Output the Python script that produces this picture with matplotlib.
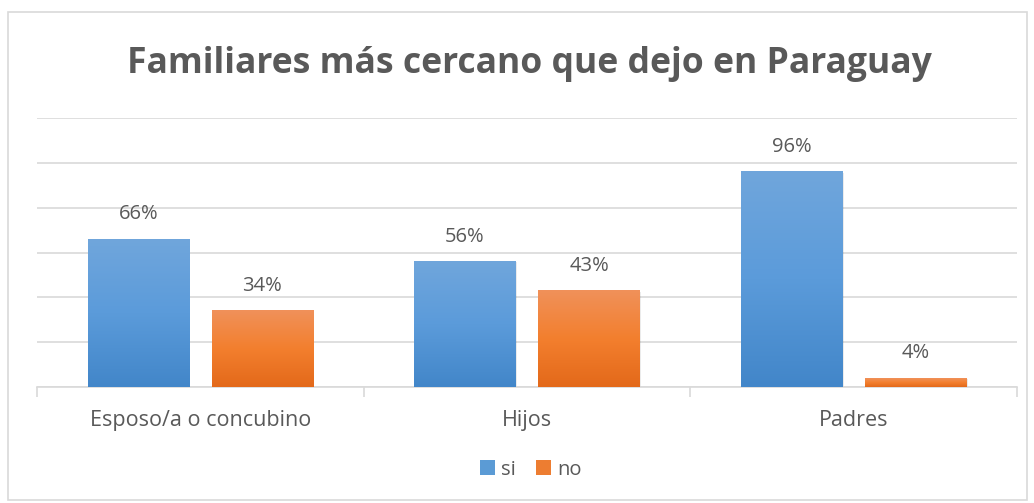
import matplotlib.pyplot as plt
import matplotlib.patches as mpatches
import numpy as np
from matplotlib.colors import LinearSegmentedColormap

categories = ["Esposo/a o concubino", "Hijos", "Padres"]
si_vals = [0.66, 0.56, 0.96]
no_vals = [0.34, 0.43, 0.04]
series_names = ["si", "no"]

plt.rcParams['font.family'] = ['Open Sans', 'DejaVu Sans']
text_col = '#595959'
grid_col = '#D9D9D9'

fig = plt.figure(figsize=(10.34, 5.03), dpi=100)
ax = fig.add_axes([0.0358, 0.2306, 0.9478, 0.5348])

# outer chart border
fig.patches.append(mpatches.Rectangle((8 / 1034, 3 / 503), 1019 / 1034, 488 / 503,
                                      transform=fig.transFigure, fill=False,
                                      edgecolor='#D9D9D9', linewidth=1.2))

blue_cmap = LinearSegmentedColormap.from_list('b', ['#4286C9', '#5B9BDA', '#70A6DC'])
orange_cmap = LinearSegmentedColormap.from_list('o', ['#E3691A', '#F37F2E', '#F0915A'])

width = 0.31
offset = 0.19
x = np.arange(len(categories))
grad = np.linspace(0, 1, 256).reshape(-1, 1)

def grad_bars(xs, vals, cmap):
    for xi, v in zip(xs, vals):
        # soft shadow
        ax.add_patch(mpatches.Rectangle((xi - width / 2 + 0.004, 0), width, v - 0.004,
                                        facecolor='#000000', alpha=0.08, edgecolor='none', zorder=2))
        ax.imshow(grad, extent=(xi - width / 2, xi + width / 2, 0, v), origin='lower',
                  cmap=cmap, aspect='auto', zorder=3)
        ax.text(xi, v + 0.065, f"{round(v * 100):d}%", ha='center', va='bottom',
                fontsize=14.5, color=text_col, zorder=4)

grad_bars(x - offset, si_vals, blue_cmap)
grad_bars(x + offset, no_vals, orange_cmap)

ax.set_xlim(-0.5, 2.5)
ax.set_ylim(0, 1.2)
ax.set_yticks(np.arange(0, 1.21, 0.2))
ax.yaxis.grid(True, color=grid_col, linewidth=1.2)
ax.set_axisbelow(True)
ax.tick_params(axis='y', length=0, labelleft=False)
for s in ['top', 'right', 'left']:
    ax.spines[s].set_visible(False)
ax.spines['bottom'].set_color(grid_col)
ax.spines['bottom'].set_linewidth(1.2)

ax.set_xticks([-0.5, 0.5, 1.5, 2.5])
ax.set_xticklabels([])
ax.tick_params(axis='x', length=7, color=grid_col, width=1.2)
for xi, c in zip(x, categories):
    ax.text(xi, -0.15, c, ha='center', va='center', fontsize=15.5, color=text_col,
            transform=ax.transData)

fig.text(0.512, 0.872, "Familiares más cercano que dejo en Paraguay", ha='center', va='center',
         fontsize=25.6, fontweight='bold', color=text_col)

handles = [mpatches.Patch(facecolor='#5B9BD5'), mpatches.Patch(facecolor='#ED7D31')]
fig.legend(handles, series_names, loc='center', bbox_to_anchor=(0.513, 0.066), ncol=2,
           frameon=False, fontsize=14.5, handlelength=0.75, handleheight=0.75,
           handletextpad=0.3, columnspacing=1.0, labelcolor=text_col)

fig.savefig('out.png', dpi=100)
